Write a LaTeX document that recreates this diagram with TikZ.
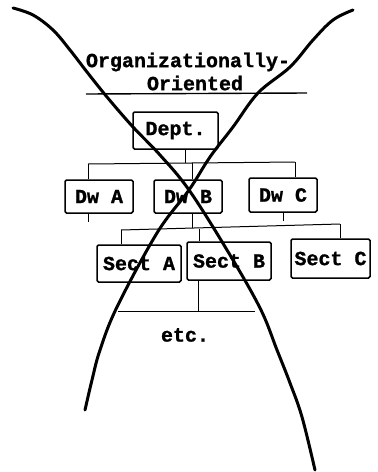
\documentclass[tikz,border=0pt]{standalone}
\usepackage{fontspec}
\setmonofont[BoldFeatures={FakeBold=1.2}]{Liberation Mono}
\begin{document}
\begin{tikzpicture}[x=1pt,y=-1pt,
  every node/.style={font=\ttfamily\bfseries\fontsize{20}{22}\selectfont, inner sep=0pt},
  unitbox/.style={draw, line width=1.5pt, rounded corners=1.5pt},
  link/.style={line width=1pt},
  cross/.style={line width=3pt, line cap=round}]
\useasboundingbox (0,0) rectangle (378,472);

% heading
\node (title1) at (188,62) {Organizationally-};
\node (title2) at (195,83) {Oriented};
\coordinate (ruleL) at (86,94);
\coordinate (ruleR) at (307,93);
\draw[line width=1.4pt] (ruleL) -- (ruleR);

% units
\node[unitbox, minimum width=85pt, minimum height=37pt] (dept) at (175.5,130.5) {Dept.};
\node[unitbox, minimum width=68pt, minimum height=33pt] (dwa) at (99,196.5) {Dw A};
\node[unitbox, minimum width=68pt, minimum height=33pt] (dwb) at (188,196.5) {Dw B};
\node[unitbox, minimum width=68pt, minimum height=34pt] (dwc) at (283,195) {Dw C};
\node[unitbox, minimum width=84pt, minimum height=37pt] (secta) at (139,263.5) {Sect A};
\node[unitbox, minimum width=84pt, minimum height=38pt] (sectb) at (229,261) {Sect B};
\node[unitbox, minimum width=79pt, minimum height=39pt] (sectc) at (330.5,258.5) {Sect C};
\node (etc) at (185,335) {etc.};

% first level of the tree
\coordinate (b1L) at (88,164);
\coordinate (b1D) at (185,163);
\coordinate (b1M) at (192,163);
\coordinate (b1R) at (295,162);
\draw[link] (b1L) -- (b1R);
\draw[link] (dept.south -| b1D) -- (b1D);
\draw[link] (b1L) -- (b1L |- dwa.north);
\draw[link] (b1M) -- (b1M |- dwb.north);
\draw[link] (b1R) -- (b1R |- dwc.north);
\draw[link] (dwa.south -| b1L) -- ++(0,8);
\draw[link] (dwc.south) -- ++(0,8);

% second level
\coordinate (b2L) at (121,230);
\coordinate (b2D) at (192,228);
\coordinate (b2M) at (199,228.5);
\coordinate (b2R) at (340,224);
\draw[link] (b2L) -- (b2R);
\draw[link] (dwb.south -| b2D) -- (b2D);
\draw[link] (b2L) -- (b2L |- secta.north);
\draw[link] (b2M) -- (b2M |- sectb.north);
\draw[link] (b2R) -- (b2R |- sectc.north);

% third level
\coordinate (b3L) at (118,311);
\coordinate (b3D) at (198,311);
\coordinate (b3R) at (255,311);
\draw[link] (b3L) -- (b3R);
\draw[link] (sectb.south -| b3D) -- (b3D);

% the two crossing curves
\draw[cross] plot[smooth, tension=0.6] coordinates {
  (13,8) (33,15) (53,30) (70,50) (87,72) (107,97) (133,127) (160,155)
  (189,190) (227,250) (260,308) (277,350) (290,383) (302,417) (315,470)};
\draw[cross] plot[smooth, tension=0.6] coordinates {
  (353,10) (333,20) (313,40) (290,67) (258,93) (233,127) (210,157)
  (189,190) (157,233) (117,307) (100,350) (92,380) (85,410)};
\end{tikzpicture}
\end{document}
